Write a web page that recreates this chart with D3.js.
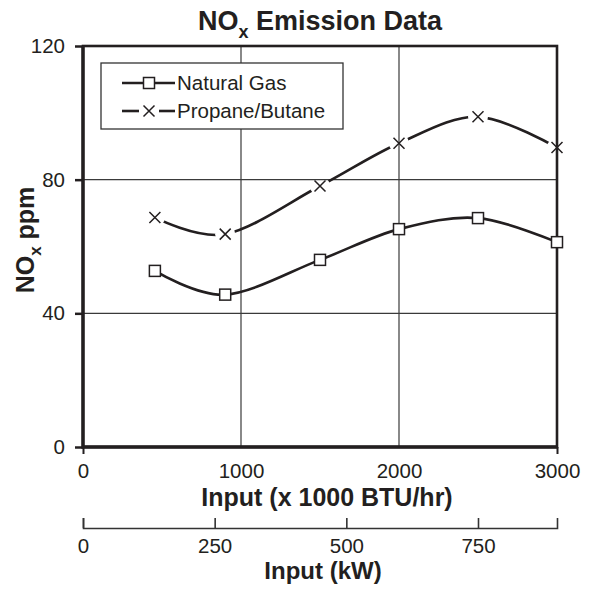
<!DOCTYPE html>
<html>
<head>
<meta charset="utf-8">
<script src="https://cdn.jsdelivr.net/npm/d3@7"></script>
<style>
  body { margin: 0; background: #fff; }
  svg { display: block; font-family: "Liberation Sans", Arial, sans-serif; }
</style>
</head>
<body>
<svg width="592" height="589"></svg>
<script>
// data
const inputBtu = [455, 900, 1500, 2000, 2500, 3000];
const naturalGas = [52.7, 45.6, 56.0, 65.2, 68.5, 61.3];
const propaneButane = [68.7, 63.7, 78.1, 90.9, 98.8, 89.6];
const xTicks = [0, 1000, 2000, 3000];
const yTicks = [0, 40, 80, 120];
const kwTicks = [0, 250, 500, 750];
const seriesNames = ["Natural Gas", "Propane/Butane"];

const W = 592, H = 589;
const m = { top: 46, right: 35, bottom: 142, left: 83 };
const ink = "#231f20";
const font = "Liberation Sans, Arial, sans-serif";

const svg = d3.select("svg");
const defs = svg.append("defs");

const x = d3.scaleLinear().domain([0, 3000]).range([m.left, W - m.right]);
const y = d3.scaleLinear().domain([0, 120]).range([H - m.bottom, m.top]);
const xKw = d3.scaleLinear().domain([0, 900]).range([m.left, W - m.right]);

// gridlines
svg.append("g")
  .selectAll("line")
  .data(xTicks.slice(1, -1))
  .join("line")
  .attr("x1", d => x(d)).attr("x2", d => x(d))
  .attr("y1", y(0)).attr("y2", y(120))
  .attr("stroke", "#3a3a3a").attr("stroke-width", 1.2);
svg.append("g")
  .selectAll("line")
  .data(yTicks.slice(1, -1))
  .join("line")
  .attr("x1", x(0)).attr("x2", x(3000))
  .attr("y1", d => y(d)).attr("y2", d => y(d))
  .attr("stroke", "#3a3a3a").attr("stroke-width", 1.2);

// y axis
const yAxis = svg.append("g")
  .attr("transform", `translate(${m.left},0)`)
  .call(d3.axisLeft(y).tickValues(yTicks).tickSize(8).tickPadding(10).tickSizeOuter(0));
yAxis.select(".domain").remove();
yAxis.selectAll("line").attr("stroke", ink).attr("stroke-width", 2.5);
yAxis.selectAll("text").attr("fill", ink).attr("font-size", 20.5).attr("font-family", font);

// x axis (ticks only at the ends, like the original)
const xAxis = svg.append("g")
  .attr("transform", `translate(0,${y(0)})`)
  .call(d3.axisBottom(x).tickValues(xTicks).tickFormat(d3.format("d"))
    .tickSize(7).tickPadding(9).tickSizeOuter(0));
xAxis.select(".domain").remove();
xAxis.selectAll("line").attr("stroke", ink).attr("stroke-width", 2)
  .attr("y2", d => (d === 0 || d === 3000) ? 7 : 0);
xAxis.selectAll("text").attr("fill", ink).attr("font-size", 20.5).attr("font-family", font);

// plot frame
svg.append("rect")
  .attr("x", x(0)).attr("y", y(120))
  .attr("width", x(3000) - x(0)).attr("height", y(0) - y(120))
  .attr("fill", "none").attr("stroke", ink).attr("stroke-width", 2.6);
svg.append("path")
  .attr("d", `M${x(0)},${y(120)}V${y(0)}H${x(3000)}`)
  .attr("fill", "none").attr("stroke", ink).attr("stroke-width", 3.4);

// secondary kW axis
const kwAxis = svg.append("g")
  .attr("transform", "translate(0,528)")
  .call(d3.axisBottom(xKw).tickValues(kwTicks).tickSize(-10).tickSizeOuter(-10).tickPadding(10));
kwAxis.select(".domain").attr("stroke", "#333").attr("stroke-width", 1.6);
kwAxis.selectAll("line").attr("stroke", "#333").attr("stroke-width", 1.6);
kwAxis.selectAll("text").attr("fill", ink).attr("font-size", 20.5).attr("font-family", font);

// lines
const pts = vals => inputBtu.map((v, i) => [v, vals[i]]);
const line = d3.line()
  .x(d => x(d[0])).y(d => y(d[1]))
  .curve(d3.curveCardinal.tension(0));

// gaps around the crosses
const mask = defs.append("mask").attr("id", "pbGap")
  .attr("maskUnits", "userSpaceOnUse")
  .attr("x", 0).attr("y", 0).attr("width", W).attr("height", H);
mask.append("rect").attr("width", W).attr("height", H).attr("fill", "white");
mask.selectAll("circle")
  .data(pts(propaneButane))
  .join("circle")
  .attr("cx", d => x(d[0])).attr("cy", d => y(d[1])).attr("r", 10)
  .attr("fill", "black");

svg.append("path")
  .datum(pts(naturalGas))
  .attr("d", line)
  .attr("fill", "none").attr("stroke", ink).attr("stroke-width", 2.6);
svg.append("path")
  .datum(pts(propaneButane))
  .attr("d", line)
  .attr("mask", "url(#pbGap)")
  .attr("fill", "none").attr("stroke", ink).attr("stroke-width", 2.6);

const sq = 5.5, cr = 5.5;
function square(g) {
  g.append("rect").attr("x", -sq).attr("y", -sq).attr("width", 2 * sq).attr("height", 2 * sq)
    .attr("fill", "#fff").attr("stroke", ink).attr("stroke-width", 1.5);
}
function cross(g) {
  g.append("path").attr("d", `M${-cr},${-cr}L${cr},${cr}M${-cr},${cr}L${cr},${-cr}`)
    .attr("stroke", ink).attr("stroke-width", 1.5);
}

svg.append("g").selectAll("g")
  .data(pts(naturalGas))
  .join("g")
  .attr("transform", d => `translate(${x(d[0])},${y(d[1])})`)
  .each(function () { square(d3.select(this)); });
svg.append("g").selectAll("g")
  .data(pts(propaneButane))
  .join("g")
  .attr("transform", d => `translate(${x(d[0])},${y(d[1])})`)
  .each(function () { cross(d3.select(this)); });

// legend
const lg = svg.append("g").attr("transform", "translate(101,63)");
lg.append("rect").attr("width", 242).attr("height", 66)
  .attr("fill", "#fff").attr("stroke", "#333").attr("stroke-width", 1.3);
seriesNames.forEach((name, i) => {
  const row = lg.append("g").attr("transform", `translate(0,${20 + i * 28})`);
  if (i === 0) {
    row.append("line").attr("x1", 21).attr("x2", 74).attr("stroke", ink).attr("stroke-width", 2.6);
    square(row.append("g").attr("transform", "translate(48,0)"));
  } else {
    row.append("line").attr("x1", 21).attr("x2", 38).attr("stroke", ink).attr("stroke-width", 2.6);
    row.append("line").attr("x1", 58).attr("x2", 74).attr("stroke", ink).attr("stroke-width", 2.6);
    cross(row.append("g").attr("transform", "translate(48,0)"));
  }
  row.append("text").attr("x", 76).attr("y", 7)
    .attr("font-size", 20.5).attr("fill", ink).text(name);
});

// titles
const title = svg.append("text")
  .attr("x", 320).attr("y", 30).attr("text-anchor", "middle")
  .attr("font-size", 27).attr("font-weight", "bold").attr("fill", ink);
title.append("tspan").text("NO");
title.append("tspan").attr("dy", 8).attr("font-size", 18).text("x");
title.append("tspan").attr("dy", -8).text(" Emission Data");

svg.append("text")
  .attr("x", 327).attr("y", 506).attr("text-anchor", "middle")
  .attr("font-size", 25).attr("font-weight", "bold").attr("fill", ink)
  .text("Input (x 1000 BTU/hr)");

svg.append("text")
  .attr("x", 323).attr("y", 579).attr("text-anchor", "middle")
  .attr("font-size", 24).attr("font-weight", "bold").attr("fill", ink)
  .text("Input (kW)");

const yt = svg.append("text")
  .attr("transform", "translate(34,240) rotate(-90)")
  .attr("text-anchor", "middle")
  .attr("font-size", 25).attr("font-weight", "bold").attr("fill", ink);
yt.append("tspan").text("NO");
yt.append("tspan").attr("dy", 7).attr("font-size", 17).text("x");
yt.append("tspan").attr("dy", -7).text(" ppm");
</script>
</body>
</html>
